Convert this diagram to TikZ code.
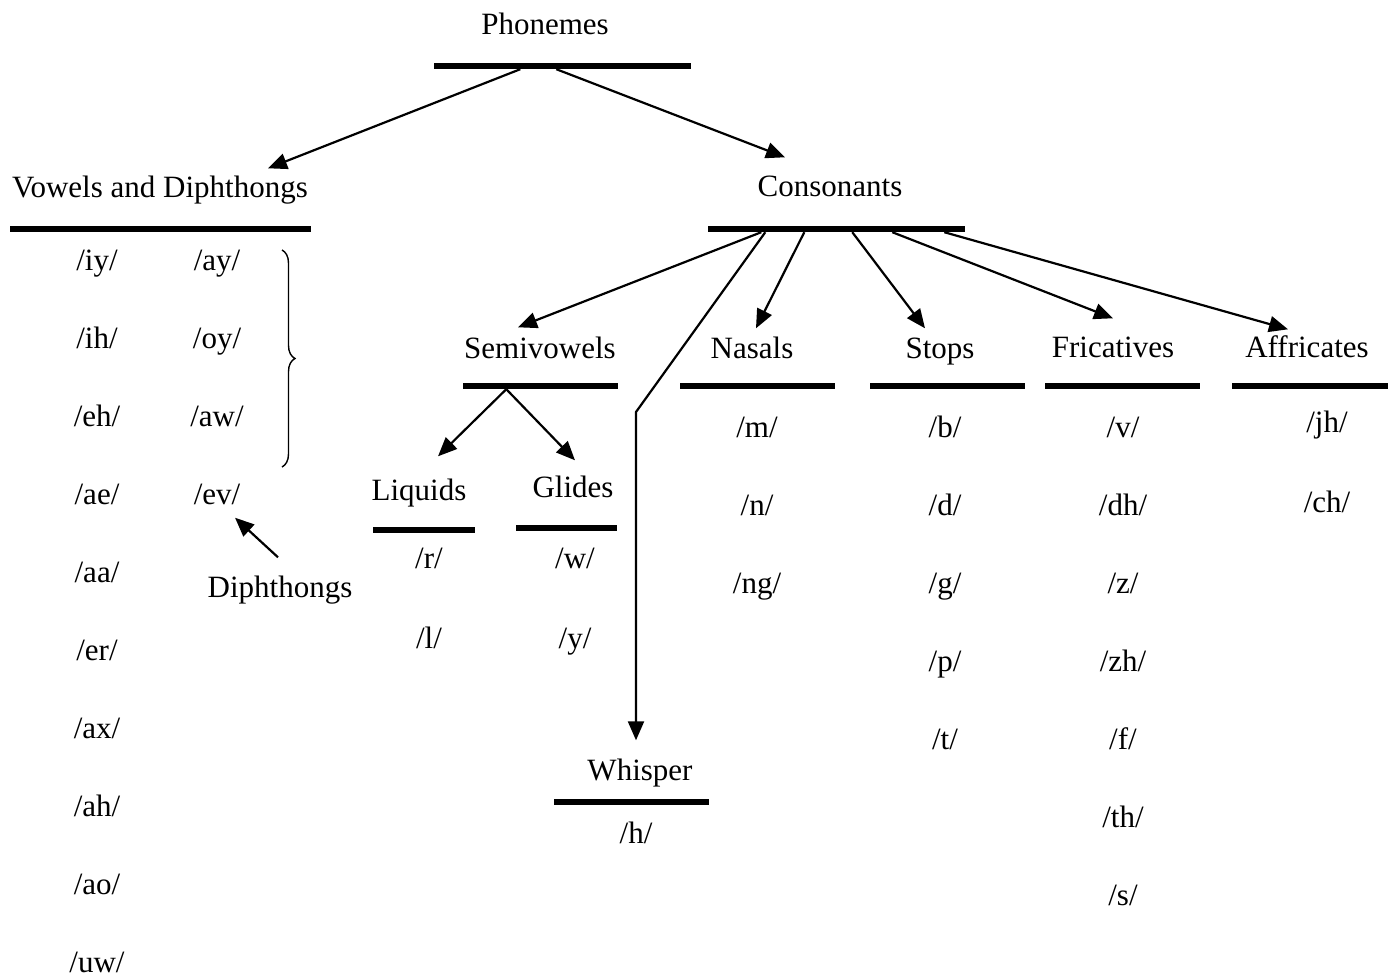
\documentclass[tikz,border=0pt]{standalone}
\usepackage{fontspec}
\setmainfont{Liberation Serif}
\usetikzlibrary{arrows.meta,decorations.pathreplacing}

\tikzset{
  lbl/.style={font=\fontsize{31}{37}\selectfont, inner sep=0pt, text height=20pt, text depth=7pt, yshift=-4pt},
  bar/.style={fill=black, inner sep=0pt, minimum height=6pt, minimum width=#1},
  arr/.style={-{Triangle[length=19pt,width=16pt]}, line width=2.2pt},
}

\begin{document}
\begin{tikzpicture}[x=1pt,y=-1pt]
        \useasboundingbox (0,0) rectangle (1395,977);
        % headings and bars
        \node[lbl] (phon) at (545,24) {Phonemes};
        \node[bar=257pt] (phonbar) at (562,66) {};
        \node[lbl] (vowels) at (160,187) {Vowels and Diphthongs};
        \node[bar=301pt] (vowbar) at (160,229) {};
        \node[lbl] (cons) at (830,186) {Consonants};
        \node[bar=257pt] (consbar) at (836,229) {};
        \node[lbl] (semi) at (540,348) {Semivowels};
        \node[bar=155pt] (semibar) at (540,386) {};
        \node[lbl] (nasals) at (752,348) {Nasals};
        \node[bar=155pt] (nasbar) at (757,386) {};
        \node[lbl] (stops) at (940,348) {Stops};
        \node[bar=155pt] (stopbar) at (947,386) {};
        \node[lbl] (fric) at (1113,347) {Fricatives};
        \node[bar=155pt] (fricbar) at (1122,386) {};
        \node[lbl] (affr) at (1307,347) {Affricates};
        \node[bar=156pt] (affrbar) at (1310,386) {};
        \node[lbl] (liq) at (419,490) {Liquids};
        \node[bar=102pt] (liqbar) at (424,530) {};
        \node[lbl] (glid) at (573,487) {Glides};
        \node[bar=101pt] (glidbar) at (566,528) {};
        \node[lbl] (whisp) at (640,770) {Whisper};
        \node[bar=155pt] (whispbar) at (631,802) {};

        % phoneme lists
        \foreach \p [count=\i from 0] in {iy,ih,eh,ae,aa,er,ax,ah,ao,uw}
          \node[lbl] (v-\p) at (97,260+78*\i) {/\p/};
        \foreach \p [count=\i from 0] in {ay,oy,aw,ev}
          \node[lbl] (d-\p) at (217,260+78*\i) {/\p/};
        \foreach \p [count=\i from 0] in {r,l}
          \node[lbl] (liq-\p) at (429,558+80*\i) {/\p/};
        \foreach \p [count=\i from 0] in {w,y}
          \node[lbl] (gl-\p) at (575,558+80*\i) {/\p/};
        \foreach \p [count=\i from 0] in {m,n,ng}
          \node[lbl] (nas-\p) at (757,427+78*\i) {/\p/};
        \foreach \p [count=\i from 0] in {b,d,g,p,t}
          \node[lbl] (st-\p) at (945,427+78*\i) {/\p/};
        \foreach \p [count=\i from 0] in {v,dh,z,zh,f,th,s}
          \node[lbl] (fr-\p) at (1123,427+78*\i) {/\p/};
        \foreach \p [count=\i from 0] in {jh,ch}
          \node[lbl] (af-\p) at (1327,422+80*\i) {/\p/};
        \node[lbl] (wh-h) at (636,833) {/h/};

        % diphthong brace and label
        \draw[decorate, decoration={brace, amplitude=13pt}, line width=1.4pt] (282,250) -- (282,467);
        \node[lbl] (diph) at (280,587) {Diphthongs};
        \draw[arr] ([xshift=-2pt,yshift=20pt]diph.north) -- ([xshift=18pt,yshift=-6pt]d-ev.south);

        % tree arrows
        \draw[arr] ([xshift=87pt]phonbar.south west) -- ([xshift=108pt,yshift=9pt]vowels.north);
        \draw[arr] ([xshift=123pt]phonbar.south west) -- ([xshift=-45pt,yshift=19pt]cons.north);
        \draw[arr] ([xshift=54pt]consbar.south west) -- ([xshift=-22pt,yshift=11pt]semi.north);
        \coordinate (wbend) at (636,412);
        \draw[arr] ([xshift=58pt]consbar.south west) -- (wbend) -- ([xshift=-4pt,yshift=20pt]whisp.north);
        \draw[arr] ([xshift=97pt]consbar.south west) -- ([xshift=4pt,yshift=10pt]nasals.north);
        \draw[arr] ([xshift=145pt]consbar.south west) -- ([xshift=-15pt,yshift=10pt]stops.north);
        \draw[arr] ([xshift=185pt]consbar.south west) -- ([yshift=19pt]fric.north);
        \draw[arr] ([xshift=237pt]consbar.south west) -- ([xshift=-19pt,yshift=8pt]affr.north);
        \draw[arr] ([xshift=44pt]semibar.south west) -- ([xshift=19pt,yshift=24pt]liq.north);
        \draw[arr] ([xshift=44pt]semibar.south west) -- ([xshift=2pt,yshift=17pt]glid.north);
\end{tikzpicture}
\end{document}
